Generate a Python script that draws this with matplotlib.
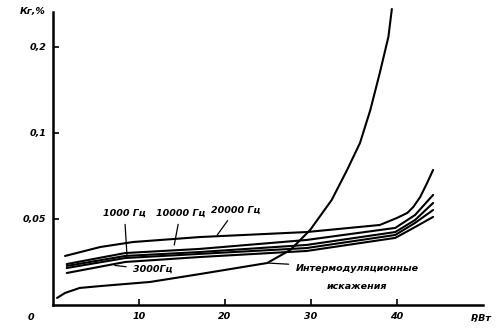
import numpy as np
import matplotlib
matplotlib.use("Agg")
import matplotlib.pyplot as plt

# ---- data (P in W, distortion in %) ----
p_top = [1.4, 5.5, 9.3, 17.1, 29.5, 38.0, 40.0, 41.2, 41.9, 42.7, 43.5, 44.2]
k_top = [0.0285, 0.0337, 0.0366, 0.0395, 0.0424, 0.0465, 0.0506, 0.0535, 0.0570, 0.0628, 0.0709, 0.0785]

p_b = [1.6, 8.4, 17.1, 29.5, 39.8, 42.1, 44.2]
k_a = [0.0238, 0.0302, 0.0326, 0.0378, 0.0448, 0.0523, 0.0640]
k_b = [0.0227, 0.0285, 0.0308, 0.0349, 0.0424, 0.0494, 0.0593]
k_c = [0.0215, 0.0273, 0.0297, 0.0331, 0.0407, 0.0477, 0.0552]
k_d = [0.0186, 0.0250, 0.0279, 0.0314, 0.0390, 0.0453, 0.0512]

p_im = [0.47, 1.4, 3.1, 5.5, 11.3, 17.1, 24.9, 27.6, 29.9, 32.4, 34.2, 35.7, 36.9, 38.0, 39.0, 39.4]
k_im = [0.0041, 0.0070, 0.0099, 0.0110, 0.0134, 0.0180, 0.0244, 0.0320, 0.0436,
        0.0610, 0.0785, 0.0942, 0.1267, 0.1698, 0.2116, 0.244]

y_ticks = [0.05, 0.1, 0.2]
y_ticklabels = ["0,05", "0,1", "0,2"]
x_ticks = [10, 20, 30, 40]
x_ticklabels = ["10", "20", "30", "40"]

# non-linear vertical scale: 0, 0.05, 0.1, 0.2 equally spaced
Y_VALS = [0, 0.05, 0.1, 0.2, 0.3]
Y_POS = [0, 1, 2, 3, 4]
fwd = lambda v: np.interp(v, Y_VALS, Y_POS)
inv = lambda p: np.interp(p, Y_POS, Y_VALS)

fig = plt.figure(figsize=(4.99, 3.28), dpi=100)
ax = fig.add_axes([53/499, 23/328, 430/499, 302/328])
ax.set_yscale('function', functions=(fwd, inv))
ax.set_xlim(0, 50)
ax.set_ylim(0, 0.251)

lw = 1.5
for p, k in [(p_top, k_top), (p_b, k_a), (p_b, k_b), (p_b, k_c), (p_b, k_d), (p_im, k_im)]:
    ax.plot(p, k, color='black', lw=lw, solid_capstyle='round', solid_joinstyle='round')

for s in ['top', 'right']:
    ax.spines[s].set_visible(False)
ax.spines['left'].set_linewidth(1.8)
ax.spines['bottom'].set_linewidth(1.8)
ax.spines['left'].set_bounds(0, 0.241)

font = dict(family='DejaVu Sans', style='italic', weight='bold', size=6.8)
ax.set_yticks(y_ticks)
ax.set_yticklabels(y_ticklabels, **font)
ax.set_xticks(x_ticks)
ax.set_xticklabels(x_ticklabels, **font)
ax.tick_params(direction='in', length=4, width=1.2, pad=5)
ax.yaxis.set_minor_locator(plt.NullLocator())
ax.xaxis.set_minor_locator(plt.NullLocator())

ax.annotate("0", xy=(0, 0), xytext=(-22, -12), textcoords='offset pixels',
            ha='center', va='center', **font)
ax.annotate("Кг,%", xy=(0, 0.241), xytext=(-20, 0), textcoords='offset pixels',
            ha='center', va='center', **font)
ax.annotate("P,Вт", xy=(50, 0), xytext=(-2, -13), textcoords='offset pixels',
            ha='center', va='center', **font)

# curve labels with leaders
def lab(text, xy_text, xy_pt, ha='center'):
    ax.annotate(text, xy=xy_pt, xytext=xy_text, ha=ha, va='center',
                arrowprops=dict(arrowstyle='-', lw=0.9, color='black', shrinkA=3, shrinkB=0),
                **font)

lab("1000 Гц", (8.3, 0.0535), (8.6, 0.0290))
lab("10000 Гц", (14.8, 0.0535), (14.1, 0.0349))
lab("20000 Гц", (21.2, 0.0552), (19.1, 0.0407))
lab("3000Гц", (11.6, 0.0205), (7.2, 0.0230))
lab("Интермодуляционные", (28.2, 0.0215), (24.9, 0.0244), ha='left')
ax.text(35.3, 0.0105, "искажения", ha='center', va='center', **font)

fig.savefig("out.png", dpi=100)
